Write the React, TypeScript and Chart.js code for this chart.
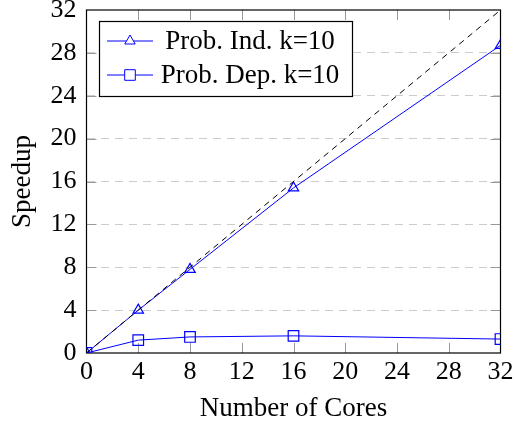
import React, { useEffect, useRef } from "react";
import { Chart, registerables } from "chart.js";

Chart.register(...registerables);

const cores = [0, 4, 8, 16, 32];
const speedupInd = [0, 4.0, 7.8, 15.4, 28.7];
const speedupDep = [0, 1.2, 1.5, 1.6, 1.3];
const idealX = [0, 32];
const idealY = [0, 32];
const labelInd = "Prob. Ind. k=10";
const labelDep = "Prob. Dep. k=10";
const xTitle = "Number of Cores";
const yTitle = "Speedup";

const FONT = "'Liberation Serif', 'Times New Roman', serif";
const FS = 26;
const FS_T = 27;
const BLUE = "#0000ff";

const framePlugin = {
  id: "frame",
  beforeDatasetsDraw(chart: any) {
    const { ctx, chartArea: a, scales } = chart;
    ctx.save();
    ctx.strokeStyle = "#999999";
    ctx.lineWidth = 1;
    const tl = 10;
    scales.x.ticks.forEach((t: any) => {
      if (t.value === 0 || t.value === 32) return;
      const px = Math.round(scales.x.getPixelForValue(t.value)) + 0.5;
      ctx.beginPath();
      ctx.moveTo(px, a.bottom);
      ctx.lineTo(px, a.bottom - tl);
      ctx.moveTo(px, a.top);
      ctx.lineTo(px, a.top + tl);
      ctx.stroke();
    });
    scales.y.ticks.forEach((t: any) => {
      if (t.value === 0 || t.value === 32) return;
      const py = Math.round(scales.y.getPixelForValue(t.value)) + 0.5;
      ctx.beginPath();
      ctx.moveTo(a.left, py);
      ctx.lineTo(a.left + tl, py);
      ctx.moveTo(a.right, py);
      ctx.lineTo(a.right - tl, py);
      ctx.stroke();
    });
    ctx.strokeStyle = "#000000";
    ctx.lineWidth = 1.2;
    ctx.strokeRect(a.left, a.top, a.right - a.left, a.bottom - a.top);
    ctx.restore();
  },
};

function drawMarker(ctx: CanvasRenderingContext2D, style: string, x: number, y: number, r: number) {
  ctx.beginPath();
  if (style === "triangle") {
    ctx.moveTo(x, y - r);
    ctx.lineTo(x + r * Math.sin(Math.PI / 3), y + r / 2);
    ctx.lineTo(x - r * Math.sin(Math.PI / 3), y + r / 2);
    ctx.closePath();
  } else {
    const s = Math.SQRT1_2 * r;
    ctx.rect(x - s, y - s, 2 * s, 2 * s);
  }
  ctx.fillStyle = "#ffffff";
  ctx.fill();
  ctx.stroke();
}

const legendPlugin = {
  id: "customLegend",
  afterDraw(chart: any) {
    const { ctx } = chart;
    const bx = 99.5, by = 21.5, bw = 253, bh = 75;
    ctx.save();
    ctx.fillStyle = "#ffffff";
    ctx.fillRect(bx, by, bw, bh);
    ctx.strokeStyle = "#000000";
    ctx.lineWidth = 1.2;
    ctx.strokeRect(bx, by, bw, bh);
    const rows = chart.data.datasets.filter((d: any) => d.showInLegend);
    rows.forEach((d: any, i: number) => {
      const y = 41 + i * 34;
      ctx.strokeStyle = BLUE;
      ctx.lineWidth = 1;
      ctx.beginPath();
      ctx.moveTo(107, y);
      ctx.lineTo(153, y);
      ctx.stroke();
      drawMarker(ctx, d.pointStyle, 130, y, d.pointRadius);
      ctx.fillStyle = "#000000";
      ctx.font = `${FS_T}px ${FONT}`;
      ctx.textAlign = "center";
      ctx.textBaseline = "middle";
      ctx.fillText(d.label, 250, y + 1);
    });
    ctx.restore();
  },
};

export default function App() {
  const ref = useRef<HTMLCanvasElement | null>(null);
  useEffect(() => {
    if (!ref.current) return;
    const chart = new Chart(ref.current, {
      type: "line",
      data: {
        datasets: [
          {
            label: "ideal",
            data: idealX.map((x, i) => ({ x, y: idealY[i] })),
            borderColor: "#000000",
            borderWidth: 1,
            borderDash: [6, 5],
            pointRadius: 0,
            fill: false,
          } as any,
          {
            label: labelInd,
            showInLegend: true,
            data: cores.map((x, i) => ({ x, y: speedupInd[i] })),
            borderColor: BLUE,
            borderWidth: 1,
            pointStyle: "triangle",
            pointRadius: 6,
            pointBorderColor: BLUE,
            pointBackgroundColor: "rgba(0,0,0,0)",
            pointBorderWidth: 1.2,
            fill: false,
          },
          {
            label: labelDep,
            showInLegend: true,
            data: cores.map((x, i) => ({ x, y: speedupDep[i] })),
            borderColor: BLUE,
            borderWidth: 1,
            pointStyle: "rect",
            pointRadius: 7.5,
            pointBorderColor: BLUE,
            pointBackgroundColor: "rgba(0,0,0,0)",
            pointBorderWidth: 1.2,
            fill: false,
          },
        ],
      },
      options: {
        responsive: false,
        animation: false,
        layout: { padding: { top: 10, right: 13.5, left: 0, bottom: 0 } },
        plugins: { legend: { display: false }, tooltip: { enabled: false } },
        scales: {
          x: {
            type: "linear",
            min: 0,
            max: 32,
            afterFit: (s: any) => {
              s.height = 72;
              s.paddingLeft = 0;
              s.paddingRight = 0;
            },
            ticks: {
              stepSize: 4,
              color: "#000000",
              padding: 4,
              maxRotation: 0,
              font: { family: FONT, size: FS },
            },
            grid: { display: false, drawTicks: false },
            border: { display: false },
            title: {
              display: true,
              text: xTitle,
              color: "#000000",
              font: { family: FONT, size: FS_T },
              padding: { top: 0, bottom: 0 },
            },
          },
          y: {
            type: "linear",
            min: 0,
            max: 32,
            afterFit: (s: any) => {
              s.width = 86.5;
              s.paddingTop = 0;
              s.paddingBottom = 0;
            },
            ticks: {
              stepSize: 4,
              color: "#000000",
              padding: 10,
              font: { family: FONT, size: FS },
            },
            grid: {
              drawTicks: false,
              color: (c: any) =>
                c.tick && (c.tick.value === 0 || c.tick.value === 32) ? "rgba(0,0,0,0)" : "#cccccc",
              lineWidth: 1,
            },
            border: { display: false, dash: [8, 6] },
            title: {
              display: true,
              text: yTitle,
              color: "#000000",
              font: { family: FONT, size: FS_T },
              padding: { top: 7, bottom: 0 },
            },
          },
        },
      } as any,
      plugins: [framePlugin, legendPlugin],
    });
    return () => chart.destroy();
  }, []);
  return (
    <div style={{ position: "fixed", left: 0, top: 0, width: 514, height: 425, background: "#fff" }}>
      <canvas ref={ref} width={514} height={425} style={{ display: "block" }} />
    </div>
  );
}
